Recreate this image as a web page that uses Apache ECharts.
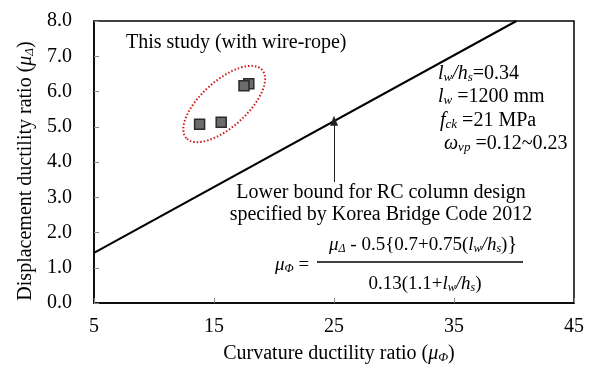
<!DOCTYPE html>
<html>
<head>
<meta charset="utf-8">
<script src="https://cdn.jsdelivr.net/npm/echarts@6/dist/echarts.min.js"></script>
<style>
html,body{margin:0;padding:0;background:#fff;}
#c{width:600px;height:375px;}
</style>
</head>
<body>
<div id="c"></div>
<script>
// Data
const studyX = [13.8, 15.6, 17.9, 17.5];
const studyY = [5.07, 5.13, 6.22, 6.16];
const boundX = [5, 40.2];
const boundY = [1.42, 8.0];
const arrowX = [25, 25];
const arrowY = [3.43, 5.17];
const xTicks = [5, 15, 25, 35, 45];
const yTicks = [0, 1, 2, 3, 4, 5, 6, 7, 8];
const ellipseCenter = [15.85, 5.645];

const FONT = 'Liberation Serif';
const chart = echarts.init(document.getElementById('c'), null, {renderer: 'canvas'});

const subRich = {
  n: {fontFamily: FONT, fontSize: 20, color: '#000'},
  i: {fontFamily: FONT, fontSize: 20, fontStyle: 'italic', color: '#000'},
  s: {fontFamily: FONT, fontSize: 13, fontStyle: 'italic', color: '#000', verticalAlign: 'bottom'}
};
const fRich = {
  n: {fontFamily: FONT, fontSize: 19, color: '#000'},
  i: {fontFamily: FONT, fontSize: 19, fontStyle: 'italic', color: '#000'},
  s: {fontFamily: FONT, fontSize: 12, fontStyle: 'italic', color: '#000', verticalAlign: 'bottom'}
};

function txt(x, y, text, rich, align) {
  return {
    type: 'text', x: x, y: y, z: 100,
    style: {text: text, rich: rich, align: align || 'left', verticalAlign: 'middle',
            fontFamily: FONT, fontSize: 20, fill: '#000'}
  };
}

const option = {
  animation: false,
  backgroundColor: '#fff',
  grid: {left: 94, right: 26, top: 21, bottom: 72, show: true, borderColor: '#000', borderWidth: 1.5},
  xAxis: {
    type: 'value', min: xTicks[0], max: xTicks[xTicks.length - 1], interval: 10,
    axisLine: {lineStyle: {color: '#000', width: 1.5}},
    axisTick: {inside: true, length: 5, lineStyle: {color: '#888'}},
    splitLine: {show: false},
    axisLabel: {fontFamily: FONT, fontSize: 20, color: '#000', margin: 14},
    name: 'Curvature ductility ratio ({i|μ}{s|Φ})',
    nameLocation: 'middle', nameGap: 41,
    nameTextStyle: {fontFamily: FONT, fontSize: 20, color: '#000', rich: subRich, padding: [0, 0, 0, 10]}
  },
  yAxis: {
    type: 'value', min: yTicks[0], max: yTicks[yTicks.length - 1], interval: 1,
    axisLine: {lineStyle: {color: '#000', width: 1.5}},
    axisTick: {inside: true, length: 5, lineStyle: {color: '#888'}},
    splitLine: {show: false},
    axisLabel: {fontFamily: FONT, fontSize: 20, color: '#000', margin: 22, formatter: v => v.toFixed(1)},
    name: 'Displacement ductility ratio ({i|μ}{s|Δ})',
    nameLocation: 'middle', nameGap: 55,
    nameTextStyle: {fontFamily: FONT, fontSize: 20, color: '#000', rich: subRich, padding: [0, 18, 0, 0]}
  },
  series: [
    {
      type: 'line', data: boundX.map((x, i) => [x, boundY[i]]),
      symbol: 'none', lineStyle: {color: '#000', width: 2}, z: 3,
      markLine: {
        silent: true, symbol: ['none', 'triangle'], symbolSize: [8, 10],
        lineStyle: {color: '#222', width: 1, type: 'solid'},
        label: {show: false},
        data: [[{coord: [arrowX[0], arrowY[0]]}, {coord: [arrowX[1], arrowY[1]]}]]
      }
    },
    {
      type: 'scatter', data: studyX.map((x, i) => [x, studyY[i]]),
      symbol: 'rect', symbolSize: 10, z: 5,
      itemStyle: {color: '#6b6b6b', borderColor: '#2a2a2a', borderWidth: 1.5, opacity: 1}
    }
  ],
  graphic: [
    txt(126, 43, 'This study (with wire-rope)', {}, 'left'),
    txt(438, 74, '{i|l}{s|w}{i|/h}{s|s}{n|=0.34}', subRich),
    txt(438, 97, '{i|l}{s|w}{n| =1200 mm}', subRich),
    txt(440, 121, '{i|f}{s|ck}{n| =21 MPa}', subRich),
    txt(444, 144, '{i|ω}{s|vp}{n| =0.12~0.23}', subRich),
    txt(381, 193, 'Lower bound for RC column design', {}, 'center'),
    txt(381, 215, 'specified by Korea Bridge Code 2012', {}, 'center'),
    txt(275, 265, '{i|μ}{s|Φ}{n| =}', fRich),
    txt(423, 245, '{i|μ}{s|Δ}{n| - 0.5{0.7+0.75(}{i|l}{s|w}{i|/h}{s|s}{n|)}}', fRich, 'center'),
    txt(425, 284, '{n|0.13(1.1+}{i|l}{s|w}{i|/h}{s|s}{n|)}', fRich, 'center'),
    {type: 'line', z: 100, shape: {x1: 317, y1: 262, x2: 523, y2: 262}, style: {stroke: '#000', lineWidth: 1.5}}
  ]
};
chart.setOption(option);

const c = chart.convertToPixel({gridIndex: 0}, ellipseCenter);
chart.setOption({
  graphic: option.graphic.concat([{
    type: 'ellipse', z: 90, x: c[0], y: c[1], rotation: 42 * Math.PI / 180,
    shape: {cx: 0, cy: 0, rx: 51, ry: 23},
    style: {fill: 'none', stroke: '#d01818', lineWidth: 2, lineDash: [1.5, 2]}
  }])
});
</script>
</body>
</html>
